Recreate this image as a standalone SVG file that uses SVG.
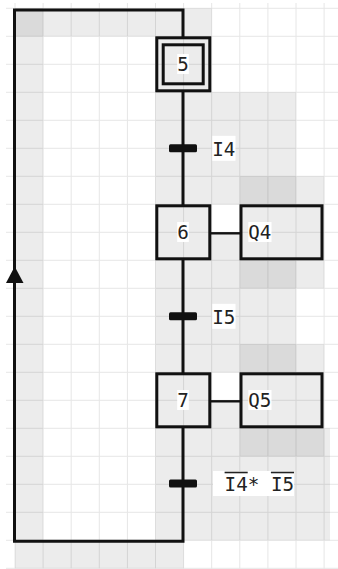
<svg xmlns="http://www.w3.org/2000/svg" width="338" height="569" viewBox="0 0 338 569">
<style>
.grid{stroke:#e6e6e6;stroke-width:1;fill:none}
.zone{fill:#000;fill-opacity:0.075}
.box{fill:none;stroke:#111;stroke-width:3}
.wire{fill:none;stroke:#111;stroke-width:3}
.link{fill:none;stroke:#111;stroke-width:2.4}
.bar{fill:#111}
.bg{fill:#fff}
.lbl{font-family:"DejaVu Sans Mono","Liberation Mono",monospace;font-size:19.2px;fill:#222}
.ovl{stroke:#222;stroke-width:1.6}
</style>
<rect width="338" height="569" fill="#fff"/>
<g id="grid">
<path class="grid" d="M15,3V569M43.1,3V569M71.2,3V569M99.3,3V569M127.4,3V569M155.5,3V569M183.6,3V569M211.7,3V569M239.8,3V569M267.9,3V569M296,3V569M324.1,3V569
M6,8.3H338M6,36.3H338M6,64.3H338M6,92.3H338M6,120.3H338M6,148.3H338M6,176.3H338M6,204.3H338M6,232.3H338M6,260.3H338M6,288.3H338M6,316.3H338M6,344.3H338M6,372.3H338M6,400.3H338M6,428.3H338M6,456.3H338M6,484.3H338M6,512.3H338M6,540.3H338M6,568.3H338"/>
</g>
<g id="zones">
<rect class="zone" x="15" y="8.3" width="196.7" height="28"/>
<rect class="zone" x="15" y="8.3" width="28.1" height="560"/>
<rect class="zone" x="43.1" y="540.3" width="140.5" height="28"/>
<rect class="zone" x="155.5" y="36.3" width="56.2" height="56"/>
<rect class="zone" x="155.5" y="92.3" width="140.5" height="112"/>
<rect class="zone" x="155.5" y="204.3" width="56.2" height="56"/>
<rect class="zone" x="211.7" y="232.3" width="28.1" height="28"/>
<rect class="zone" x="239.8" y="176.3" width="84.3" height="112"/>
<rect class="zone" x="155.5" y="260.3" width="140.5" height="112"/>
<rect class="zone" x="155.5" y="372.3" width="56.2" height="56"/>
<rect class="zone" x="211.7" y="400.3" width="28.1" height="28"/>
<rect class="zone" x="239.8" y="344.3" width="84.3" height="112"/>
<rect class="zone" x="155.5" y="428.3" width="174.5" height="112"/>
</g>
<g id="connectors">
<line class="wire" x1="183" y1="92" x2="183" y2="205"/>
<line class="wire" x1="183" y1="259" x2="183" y2="373"/>
<path class="wire" d="M183,427V541.3H14.5V10H183V37"/>
<polygon fill="#111" points="14.7,266.5 6,283 23.5,283"/>
<line class="link" x1="211" y1="233.3" x2="240" y2="233.3"/>
<line class="link" x1="211" y1="401.3" x2="240" y2="401.3"/>
</g>
<g id="step5">
<rect class="box" x="156.8" y="37.8" width="53" height="53"/>
<rect class="box" x="163.2" y="44.8" width="40" height="39"/>
<rect class="bg" x="177.2" y="54" width="11.6" height="20"/>
<text class="lbl" x="183" y="71" text-anchor="middle">5</text>
</g>
<g id="t1">
<rect class="bar" x="169" y="144.3" width="28" height="8" rx="1.5"/>
<rect class="bg" x="212.3" y="135.8" width="23.2" height="25"/>
<text class="lbl" x="212.3" y="156.1">I4</text>
</g>
<g id="step6">
<rect class="box" x="156.8" y="205.8" width="53" height="53"/>
<rect class="bg" x="177.2" y="222" width="11.6" height="20"/>
<text class="lbl" x="183" y="239.3" text-anchor="middle">6</text>
</g>
<g id="action_q4">
<rect class="box" x="241" y="205.8" width="81" height="53"/>
<rect class="bg" x="248.3" y="222" width="23.2" height="20"/>
<text class="lbl" x="248.3" y="239.3">Q4</text>
</g>
<g id="t2">
<rect class="bar" x="169" y="312.3" width="28" height="8" rx="1.5"/>
<rect class="bg" x="212.3" y="303.8" width="23.2" height="25"/>
<text class="lbl" x="212.3" y="324.1">I5</text>
</g>
<g id="step7">
<rect class="box" x="156.8" y="373.8" width="53" height="53"/>
<rect class="bg" x="177.2" y="390" width="11.6" height="20"/>
<text class="lbl" x="183" y="407.3" text-anchor="middle">7</text>
</g>
<g id="action_q5">
<rect class="box" x="241" y="373.8" width="81" height="53"/>
<rect class="bg" x="248.3" y="390" width="23.2" height="20"/>
<text class="lbl" x="248.3" y="407.3">Q5</text>
</g>
<g id="t3">
<rect class="bar" x="169" y="479.5" width="28" height="8" rx="1.5"/>
<rect class="bg" x="213" y="471" width="81" height="25"/>
<text class="lbl" y="491.3"><tspan x="224.6">I4*</tspan><tspan x="270.9">I5</tspan></text>
<line class="ovl" x1="224.6" y1="472.5" x2="247.7" y2="472.5"/>
<line class="ovl" x1="270.9" y1="472.5" x2="294" y2="472.5"/>
</g>
</svg>
